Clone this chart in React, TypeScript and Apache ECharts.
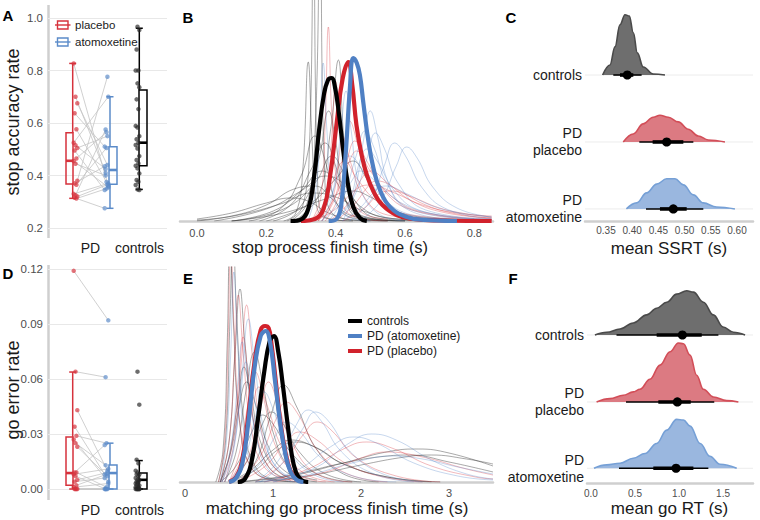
import React, { useEffect, useRef } from "react";
import * as echarts from "echarts";

const FONT = "'Liberation Sans', Arial, Helvetica, sans-serif";

// ---------------- Panel A: stop accuracy rate ----------------
const accPlacebo = [0.827, 0.70, 0.675, 0.637, 0.576, 0.525, 0.515, 0.505, 0.495, 0.465, 0.455, 0.445, 0.38, 0.37, 0.365, 0.33, 0.325, 0.32, 0.315, 0.312];
const accAtomox = [0.36, 0.41, 0.44, 0.51, 0.375, 0.70, 0.425, 0.55, 0.345, 0.565, 0.355, 0.40, 0.776, 0.435, 0.505, 0.37, 0.575, 0.365, 0.275, 0.35];
const accControls = [0.967, 0.954, 0.88, 0.80, 0.80, 0.751, 0.736, 0.69, 0.653, 0.589, 0.583, 0.55, 0.538, 0.525, 0.516, 0.503, 0.474, 0.459, 0.446, 0.437, 0.427, 0.408, 0.383, 0.376, 0.364, 0.347, 0.345];
// [min, q1, median, q3, max]
const accBoxPlacebo = [0.313, 0.368, 0.456, 0.563, 0.827];
const accBoxAtomox = [0.275, 0.367, 0.421, 0.51, 0.70];
const accBoxControls = [0.347, 0.437, 0.525, 0.726, 0.961];

// ---------------- Panel D: go error rate ----------------
const errPlacebo = [0.119, 0.064, 0.043, 0.034, 0.029, 0.027, 0.025, 0.023, 0.009, 0.009, 0.008, 0.007, 0.005, 0.004, 0.002, 0.001, 0, 0, 0, 0];
const errAtomox = [0.092, 0.061, 0.010, 0.008, 0.025, 0.004, 0.013, 0.007, 0.024, 0.001, 0.011, 0, 0.009, 0.006, 0.008, 0.003, 0, 0, 0, 0];
const errControls = [0.064, 0.046, 0.016, 0.014, 0.010, 0.009, 0.008, 0.008, 0.007, 0.006, 0.005, 0.005, 0.004, 0.004, 0.003, 0.003, 0.002, 0.002, 0.001, 0.001, 0, 0, 0, 0, 0, 0, 0];
const errBoxPlacebo = [0, 0.002, 0.0087, 0.0284, 0.0638];
const errBoxAtomox = [0, 0, 0.0087, 0.0131, 0.025];
const errBoxControls = [0, 0, 0.005, 0.0087, 0.0155];

// ---------------- Panel B: stop process finish time densities ----------------
const stopCtrlMean = [[0.27, 0], [0.297, 0.1], [0.321, 1.2], [0.338, 4.5], [0.352, 9.0], [0.366, 12.6], [0.378, 14.1], [0.388, 14.3], [0.398, 13.4], [0.41, 10.6], [0.422, 7.0], [0.435, 3.8], [0.451, 1.4], [0.47, 0.3], [0.49, 0]];
const stopPlaceboMean = [[0.30, 0], [0.34, 0.2], [0.365, 1.2], [0.384, 4.5], [0.403, 9.8], [0.42, 14.2], [0.4365, 15.9], [0.448, 13.6], [0.46, 9.6], [0.475, 6.6], [0.49, 4.6], [0.51, 2.9], [0.535, 1.6], [0.576, 0.6], [0.624, 0.2], [0.7, 0.05], [0.85, 0]];
const stopAtomoxMean = [[0.38, 0], [0.405, 0.3], [0.418, 2.2], [0.43, 7.2], [0.441, 13.2], [0.451, 16.3], [0.461, 15.8], [0.47, 14.6], [0.48, 11.8], [0.494, 8.1], [0.509, 5.3], [0.528, 3.1], [0.557, 1.4], [0.605, 0.4], [0.66, 0.1], [0.75, 0]];

const stopCtrlCurves = [
  [[0.25, 0], [0.285, 0.8], [0.305, 5], [0.321, 15.9], [0.332, 8], [0.345, 1.5], [0.38, 0.2], [0.45, 0]],
  [[0.26, 0], [0.305, 1.5], [0.325, 8], [0.336, 30], [0.348, 4], [0.37, 0.4], [0.45, 0]],
  [[0.27, 0], [0.32, 2], [0.342, 10], [0.355, 30], [0.368, 5], [0.4, 0.5], [0.5, 0]],
  [[0.28, 0], [0.35, 2.5], [0.385, 9], [0.408, 16.1], [0.422, 9], [0.44, 2.5], [0.48, 0.4], [0.6, 0]],
  [[0.15, 0], [0.24, 1.2], [0.3, 4.5], [0.34, 8.5], [0.37, 6], [0.4, 2], [0.45, 0.3], [0.55, 0]],
  [[0.18, 0], [0.27, 1.6], [0.33, 5.2], [0.37, 7.8], [0.4, 5.5], [0.43, 2], [0.48, 0.3], [0.6, 0]],
  [[0.0, 0.1], [0.1, 0.5], [0.2, 1.6], [0.28, 3.2], [0.34, 3.5], [0.39, 2.2], [0.44, 0.6], [0.55, 0]],
  [[0.0, 0.2], [0.1, 0.8], [0.2, 1.8], [0.27, 2.3], [0.32, 2.0], [0.38, 0.8], [0.45, 0.1], [0.55, 0]],
  [[0.05, 0], [0.2, 1.2], [0.3, 3.0], [0.37, 4.5], [0.42, 3.8], [0.47, 1.5], [0.55, 0.3], [0.7, 0]],
  [[0.2, 0], [0.32, 1.6], [0.4, 4.2], [0.45, 6], [0.49, 4.2], [0.54, 1.5], [0.62, 0.3], [0.75, 0]],
  [[0.22, 0], [0.3, 1.5], [0.35, 6], [0.38, 11], [0.4, 8], [0.425, 2.5], [0.47, 0.3], [0.6, 0]],
  [[0.1, 0], [0.25, 0.8], [0.37, 2.2], [0.45, 3], [0.5, 2.4], [0.57, 1.0], [0.68, 0.3], [0.85, 0.1]],
  [[0.1, 0], [0.22, 1], [0.3, 3], [0.36, 5], [0.4, 4], [0.44, 1.5], [0.5, 0.3], [0.6, 0]],
  [[0.0, 0], [0.12, 0.6], [0.25, 1.8], [0.33, 2.8], [0.4, 2.4], [0.48, 1], [0.58, 0.2], [0.75, 0]],
  [[0.1, 0], [0.25, 1.2], [0.34, 3.8], [0.39, 6.5], [0.42, 5], [0.46, 1.8], [0.52, 0.3], [0.65, 0]],
];
const stopPlaceboCurves = [
  [[0.33, 0], [0.358, 2.5], [0.37, 10], [0.379, 19.4], [0.39, 10], [0.41, 3], [0.45, 0.5], [0.55, 0]],
  [[0.36, 0], [0.4, 2.5], [0.425, 7.5], [0.44, 10], [0.465, 7.5], [0.5, 3.5], [0.56, 1], [0.7, 0.2]],
  [[0.35, 0], [0.4, 2.5], [0.44, 6], [0.46, 7], [0.5, 5], [0.56, 2.5], [0.65, 0.9], [0.85, 0.2]],
  [[0.33, 0], [0.37, 2], [0.41, 5.5], [0.425, 6], [0.46, 4.3], [0.52, 2], [0.62, 0.6], [0.85, 0.1]],
  [[0.38, 0], [0.43, 1.5], [0.48, 4.5], [0.5, 5], [0.55, 3.8], [0.62, 2], [0.72, 0.8], [0.85, 0.3]],
  [[0.34, 0], [0.4, 1.2], [0.46, 3.2], [0.5, 3.6], [0.57, 2.8], [0.65, 1.6], [0.75, 0.8], [0.85, 0.5]],
  [[0.35, 0], [0.375, 3], [0.39, 9], [0.4, 14], [0.412, 10], [0.435, 4], [0.47, 1], [0.55, 0.2]],
  [[0.4, 0], [0.45, 1.5], [0.5, 3.7], [0.52, 4], [0.58, 3.1], [0.66, 1.6], [0.75, 0.7], [0.85, 0.3]],
  [[0.37, 0], [0.41, 2.5], [0.44, 7], [0.455, 8], [0.49, 6], [0.54, 3], [0.62, 1.1], [0.8, 0.2]],
  [[0.42, 0], [0.48, 1.2], [0.53, 2.8], [0.56, 3], [0.62, 2.4], [0.7, 1.3], [0.78, 0.7], [0.85, 0.4]],
  [[0.36, 0], [0.39, 2], [0.41, 6.5], [0.42, 8.5], [0.44, 6.2], [0.48, 2.5], [0.55, 0.6], [0.7, 0.1]],
];
const stopAtomoxCurves = [
  [[0.32, 0], [0.343, 3], [0.355, 10], [0.364, 15.8], [0.375, 9], [0.39, 3], [0.43, 0.5], [0.5, 0]],
  [[0.44, 0], [0.5, 2], [0.54, 5.5], [0.57, 7.8], [0.6, 6.6], [0.65, 3.3], [0.72, 1.2], [0.85, 0.2]],
  [[0.47, 0], [0.53, 2], [0.575, 5.5], [0.605, 7.4], [0.635, 6.3], [0.68, 3.4], [0.75, 1.3], [0.85, 0.4]],
  [[0.4, 0], [0.45, 2.2], [0.49, 6.2], [0.515, 8.8], [0.54, 7.3], [0.58, 3.8], [0.66, 1.1], [0.85, 0.2]],
  [[0.38, 0], [0.42, 2.2], [0.46, 6.6], [0.485, 9], [0.51, 7.4], [0.55, 3.6], [0.62, 1.1], [0.8, 0.2]],
  [[0.36, 0], [0.39, 2.5], [0.415, 9], [0.43, 13], [0.445, 9], [0.47, 3.5], [0.52, 0.8], [0.6, 0]],
  [[0.36, 0], [0.41, 1.8], [0.45, 4.2], [0.47, 5], [0.52, 3.8], [0.59, 1.8], [0.7, 0.6], [0.85, 0.15]],
  [[0.42, 0], [0.47, 1.3], [0.52, 3.2], [0.545, 3.5], [0.6, 2.8], [0.68, 1.5], [0.76, 0.8], [0.85, 0.4]],
  [[0.34, 0], [0.38, 2], [0.42, 5.6], [0.44, 6.5], [0.48, 5], [0.54, 2.2], [0.62, 0.6], [0.75, 0.1]],
  [[0.42, 0], [0.455, 3], [0.48, 8], [0.5, 11], [0.52, 8.6], [0.55, 4], [0.6, 1.3], [0.72, 0.2]],
  [[0.4, 0], [0.44, 2], [0.47, 6], [0.49, 7.2], [0.52, 6], [0.57, 3], [0.64, 1.1], [0.8, 0.2]],
];

// ---------------- Panel E: matching go process finish time densities ----------------
const goCtrlMean = [[0.6, 0], [0.68, 0.3], [0.76, 2.2], [0.83, 6.4], [0.9, 11.0], [0.96, 14.0], [1.01, 14.6], [1.06, 13.0], [1.11, 9.8], [1.16, 6.2], [1.21, 2.9], [1.26, 1.0], [1.32, 0.2], [1.4, 0]];
const goAtomoxMean = [[0.5, 0], [0.58, 0.4], [0.65, 1.8], [0.72, 6], [0.79, 11.4], [0.86, 14.6], [0.917, 15.1], [0.966, 14], [1.02, 10.3], [1.08, 6], [1.14, 2.8], [1.2, 1.0], [1.27, 0.2], [1.345, 0]];
const goPlaceboMean = [[0.5, 0], [0.58, 0.5], [0.65, 2.2], [0.72, 6.7], [0.79, 12.0], [0.86, 15.2], [0.91, 15.6], [0.95, 15.4], [0.98, 14.0], [1.03, 10.2], [1.08, 6.3], [1.14, 3.0], [1.2, 1.1], [1.27, 0.25], [1.345, 0]];

const goCtrlCurves = [
  [[0.35, 0], [0.43, 3], [0.48, 14], [0.51, 25], [0.55, 16], [0.62, 6], [0.75, 1.5], [1.0, 0.2], [1.3, 0]],
  [[0.38, 0], [0.46, 4], [0.51, 16], [0.545, 25], [0.59, 16], [0.67, 6], [0.8, 1.5], [1.05, 0.2], [1.3, 0]],
  [[0.4, 0], [0.5, 4], [0.57, 13], [0.625, 19.3], [0.68, 14], [0.78, 6], [0.95, 1.5], [1.2, 0.2]],
  [[0.45, 0], [0.58, 3], [0.7, 9.5], [0.79, 13], [0.88, 10], [1.0, 5], [1.2, 1.3], [1.5, 0.2]],
  [[0.6, 0], [0.8, 2], [0.98, 6.8], [1.12, 9.7], [1.27, 7.5], [1.5, 3.2], [1.8, 0.8], [2.2, 0]],
  [[0.4, 0], [0.58, 1.6], [0.76, 5], [0.88, 6.7], [1.0, 5.8], [1.2, 3], [1.5, 0.8], [1.9, 0]],
  [[0.6, 0], [1.2, 0.6], [1.8, 1.9], [2.35, 3.1], [2.65, 3.3], [3.0, 2.9], [3.5, 1.6]],
  [[0.8, 0], [1.4, 0.6], [2.0, 1.7], [2.5, 2.5], [2.8, 2.7], [3.2, 2.3], [3.5, 1.8]],
  [[0.6, 0], [1.2, 0.7], [1.8, 1.9], [2.3, 2.6], [2.55, 2.7], [3.0, 2.0], [3.5, 1.0]],
  [[0.5, 0], [0.8, 1.2], [1.05, 3.2], [1.25, 4], [1.5, 3.4], [1.8, 1.8], [2.3, 0.5], [2.8, 0]],
  [[0.4, 0], [0.52, 3], [0.62, 7.8], [0.7, 10], [0.8, 7.8], [0.95, 3.5], [1.15, 1], [1.5, 0]],
  [[0.5, 0], [0.7, 2], [0.87, 5.6], [0.98, 7], [1.1, 6], [1.3, 3], [1.6, 0.8], [2.0, 0]],
  [[0.4, 0], [0.5, 2.5], [0.6, 8], [0.67, 11.5], [0.75, 8.5], [0.88, 3.5], [1.1, 0.8], [1.4, 0]],
  [[0.5, 0], [0.75, 1.2], [1.0, 3.2], [1.2, 4.2], [1.45, 3.6], [1.8, 1.8], [2.3, 0.5], [2.9, 0]],
];
const goPlaceboCurves = [
  [[0.38, 0], [0.45, 4], [0.49, 14], [0.52, 24], [0.56, 15], [0.63, 5.5], [0.76, 1.3], [1.0, 0.1]],
  [[0.4, 0], [0.5, 4], [0.56, 12], [0.606, 18.7], [0.66, 13], [0.75, 5.5], [0.9, 1.5], [1.15, 0.2]],
  [[0.45, 0], [0.56, 4], [0.64, 12], [0.70, 17.7], [0.76, 13], [0.86, 5.5], [1.02, 1.4], [1.3, 0.1]],
  [[0.55, 0], [0.72, 2.5], [0.85, 7], [0.95, 10], [1.05, 8], [1.22, 3.8], [1.5, 0.8], [1.9, 0]],
  [[0.8, 0], [1.1, 1.8], [1.35, 4.8], [1.5, 6], [1.66, 5.2], [1.95, 2.4], [2.4, 0.6], [2.9, 0]],
  [[0.9, 0], [1.4, 1.3], [1.8, 3.3], [2.06, 4], [2.35, 3.4], [2.8, 1.6], [3.3, 0.5], [3.5, 0.3]],
  [[1.0, 0], [1.6, 1], [2.0, 2.4], [2.29, 3], [2.7, 2.5], [3.2, 1.3], [3.5, 0.7]],
  [[0.6, 0], [0.85, 2.5], [1.02, 6], [1.15, 8], [1.29, 6.7], [1.52, 3], [1.85, 0.8], [2.3, 0]],
  [[0.5, 0], [0.62, 3], [0.72, 8], [0.8, 11], [0.89, 8.5], [1.02, 3.8], [1.25, 0.9], [1.6, 0]],
  [[0.6, 0], [0.9, 1.5], [1.15, 4], [1.3, 5], [1.5, 4.2], [1.8, 2], [2.2, 0.6], [2.7, 0]],
  [[0.42, 0], [0.53, 3.5], [0.61, 10], [0.66, 14.5], [0.72, 10.5], [0.82, 4.5], [1.0, 1], [1.3, 0]],
  [[0.5, 0], [0.65, 2.5], [0.76, 7], [0.84, 9.5], [0.94, 7.5], [1.1, 3.5], [1.35, 0.9], [1.7, 0]],
];
const goAtomoxCurves = [
  [[0.45, 0], [0.56, 3.5], [0.65, 11], [0.72, 16.3], [0.79, 12], [0.9, 5], [1.05, 1.3], [1.35, 0]],
  [[0.8, 0], [1.05, 2], [1.27, 5.8], [1.4, 7.2], [1.54, 6.2], [1.78, 3], [2.15, 0.8], [2.6, 0]],
  [[0.85, 0], [1.1, 1.8], [1.35, 5.5], [1.48, 7], [1.62, 6.2], [1.88, 3], [2.25, 0.8], [2.7, 0]],
  [[0.9, 0], [1.3, 1.3], [1.65, 3.5], [1.91, 4.5], [2.15, 4.0], [2.6, 1.9], [3.1, 0.6], [3.5, 0.2]],
  [[1.0, 0], [1.5, 1.5], [1.85, 3.8], [2.12, 4.8], [2.4, 4.2], [2.8, 2.2], [3.2, 0.8], [3.5, 0.3]],
  [[0.42, 0], [0.52, 3.5], [0.6, 10], [0.65, 14], [0.71, 10.5], [0.81, 4.5], [0.97, 1], [1.25, 0]],
  [[0.5, 0], [0.68, 2.5], [0.8, 6.5], [0.9, 9], [1.0, 7.3], [1.17, 3.3], [1.45, 0.8], [1.8, 0]],
  [[0.4, 0], [0.47, 4], [0.52, 13], [0.555, 21], [0.6, 13.5], [0.67, 5], [0.8, 1.2], [1.05, 0]],
  [[0.6, 0], [0.85, 1.8], [1.02, 4.5], [1.15, 6], [1.3, 5.1], [1.56, 2.3], [1.95, 0.5], [2.4, 0]],
  [[0.8, 0], [1.4, 0.7], [1.9, 1.9], [2.35, 2.6], [2.7, 2.3], [3.1, 1.5], [3.5, 0.8]],
  [[0.42, 0], [0.54, 3], [0.63, 8.5], [0.69, 12], [0.77, 9], [0.9, 4], [1.1, 1], [1.4, 0]],
];

// ---------------- Panel C: mean SSRT posterior ----------------
const ssrtCtrlDens = [[0.3436, 0], [0.3576, 0.15], [0.3672, 0.42], [0.3767, 0.75], [0.3863, 0.9], [0.3945, 0.88], [0.4022, 0.63], [0.4098, 0.33], [0.4212, 0.12], [0.4403, 0.015], [0.4626, 0]];
const ssrtPlaceboDens = [[0.383, 0], [0.402, 0.12], [0.421, 0.27], [0.44, 0.37], [0.453, 0.40], [0.469, 0.37], [0.488, 0.30], [0.507, 0.19], [0.526, 0.09], [0.545, 0.03], [0.577, 0]];
const ssrtAtomoxDens = [[0.389, 0], [0.4085, 0.09], [0.4276, 0.24], [0.4467, 0.37], [0.4658, 0.45], [0.4817, 0.45], [0.4976, 0.36], [0.5167, 0.21], [0.5357, 0.09], [0.561, 0.03], [0.596, 0]];
// [lo95, lo66, point, hi66, hi95]
const ssrtCtrlInt = [0.364, 0.3767, 0.3907, 0.4022, 0.418];
const ssrtPlaceboInt = [0.4136, 0.439, 0.4658, 0.4976, 0.5167];
const ssrtAtomoxInt = [0.4263, 0.453, 0.4785, 0.504, 0.5357];

// ---------------- Panel F: mean go RT posterior ----------------
const rtCtrlDens = [[0.045, 0], [0.178, 0.04], [0.33, 0.09], [0.48, 0.18], [0.633, 0.3], [0.746, 0.4], [0.86, 0.49], [0.973, 0.61], [1.087, 0.66], [1.163, 0.64], [1.277, 0.49], [1.39, 0.3], [1.5, 0.12], [1.617, 0.04], [1.75, 0]];
const rtPlaceboDens = [[0.064, 0], [0.216, 0.05], [0.367, 0.1], [0.48, 0.15], [0.557, 0.19], [0.67, 0.34], [0.784, 0.55], [0.898, 0.75], [0.992, 0.88], [1.05, 0.87], [1.125, 0.7], [1.2, 0.4], [1.276, 0.19], [1.39, 0.075], [1.54, 0.02], [1.674, 0]];
const rtAtomoxDens = [[0.034, 0], [0.178, 0.05], [0.33, 0.075], [0.48, 0.15], [0.614, 0.22], [0.746, 0.37], [0.86, 0.57], [0.973, 0.73], [1.05, 0.72], [1.125, 0.63], [1.24, 0.37], [1.35, 0.18], [1.466, 0.06], [1.655, 0]];
const rtCtrlInt = [0.29, 0.746, 1.038, 1.258, 1.447];
const rtPlaceboInt = [0.398, 0.765, 0.981, 1.133, 1.4];
const rtAtomoxInt = [0.318, 0.708, 0.966, 1.163, 1.333];

const rowLabels = ["controls", "PD\nplacebo", "PD\natomoxetine"];
const stopTicks = [0, 0.2, 0.4, 0.6, 0.8];
const goTicks = [0, 1, 2, 3];
const ssrtTicks = [0.35, 0.4, 0.45, 0.5, 0.55, 0.6];
const rtTicks = [0, 0.5, 1, 1.5];
const groupLabels = ["PD", "controls"];

// ---------------- colours & layout ----------------
const RED = "#d1222c";
const BLUE = "#4f80c4";
const BLACK = "#000000";
const BOX_RED = "#d6323c";
const BOX_BLUE = "#5b8bc9";
const GREY_TXT = "#4d4d4d";
const AXIS_GREY = "#cfcfcf";

// x layout in panels A/D (axis units = px from axis)
const LAY = {
  placebo: { box: [18, 25], wx: 24.7, pts: 27.5 },
  atomox: { box: [61, 69], wx: 62, pts: 58.5 },
  controls: { box: [91, 99], wx: 91.3, pts: 89.5 },
};
const GROUP_LABEL_X = [42.5, 91.5];
const jit = (i: number) => (((i * 7) % 5) - 2) * 0.9;

// row baselines in panels C / F (axis units)
const ROW_C = [2.18, 1.18, 0.18];
const ROW_F = [2.21, 1.21, 0.22];

function boxSeries(stats: number[], lay: any, color: string, ai: number) {
  return {
    type: "custom",
    xAxisIndex: ai,
    yAxisIndex: ai,
    silent: true,
    z: 4,
    data: [stats],
    renderItem: (params: any, api: any) => {
      const mn = api.value(0), q1 = api.value(1), md = api.value(2), q3 = api.value(3), mx = api.value(4);
      const c = (x: number, y: number) => api.coord([x, y]);
      const [bx0, yq3] = c(lay.box[0], q3);
      const [bx1, yq1] = c(lay.box[1], q1);
      const ymd = c(0, md)[1];
      const ymn = c(0, mn)[1];
      const ymx = c(0, mx)[1];
      const wx = c(lay.wx, 0)[0];
      const st = { stroke: color, lineWidth: 1.5, fill: "none" };
      const ch: any[] = [
        { type: "rect", shape: { x: bx0, y: yq3, width: bx1 - bx0, height: yq1 - yq3 }, style: st },
        { type: "line", shape: { x1: bx0, y1: ymd, x2: bx1, y2: ymd }, style: { stroke: color, lineWidth: 2.6 } },
        { type: "line", shape: { x1: wx, y1: yq3, x2: wx, y2: ymx }, style: st },
        { type: "line", shape: { x1: wx, y1: yq1, x2: wx, y2: ymn }, style: st },
        { type: "line", shape: { x1: wx - 3.5, y1: ymx, x2: wx + 3.5, y2: ymx }, style: st },
        { type: "line", shape: { x1: wx - 3.5, y1: ymn, x2: wx + 3.5, y2: ymn }, style: st },
      ];
      return { type: "group", children: ch };
    },
  };
}

function pairSeries(a: number[], b: number[], ai: number) {
  return {
    type: "custom",
    xAxisIndex: ai,
    yAxisIndex: ai,
    silent: true,
    z: 2,
    data: a.map((v, i) => [LAY.placebo.pts + jit(i), v, LAY.atomox.pts + jit(i + 2), b[i]]),
    renderItem: (params: any, api: any) => {
      const p1 = api.coord([api.value(0), api.value(1)]);
      const p2 = api.coord([api.value(2), api.value(3)]);
      return { type: "line", shape: { x1: p1[0], y1: p1[1], x2: p2[0], y2: p2[1] }, style: { stroke: "#c4c4c4", lineWidth: 0.8 } };
    },
  };
}

function pointsSeries(vals: number[], x: number, color: string, ai: number, shift = 0) {
  return {
    type: "scatter",
    xAxisIndex: ai,
    yAxisIndex: ai,
    silent: true,
    z: 5,
    symbolSize: 4.5,
    itemStyle: { color },
    data: vals.map((v, i) => [x + jit(i + shift), v]),
  };
}

function thinSeries(curves: number[][][], color: string, ai: number) {
  return curves.map((c) => ({
    type: "line",
    xAxisIndex: ai,
    yAxisIndex: ai,
    data: c,
    smooth: 0.45,
    showSymbol: false,
    symbol: "none",
    silent: true,
    z: 2,
    lineStyle: { color, width: 1 },
  }));
}

function thickSeries(name: string, data: number[][], color: string, ai: number) {
  return {
    name,
    type: "line",
    xAxisIndex: ai,
    yAxisIndex: ai,
    data,
    smooth: 0.45,
    showSymbol: false,
    symbol: "none",
    silent: true,
    z: 3,
    itemStyle: { color },
    lineStyle: { color, width: 4.2, join: "round" },
  };
}

function densSeries(data: number[][], base: number, fill: string, stroke: string, ai: number) {
  return {
    type: "line",
    xAxisIndex: ai,
    yAxisIndex: ai,
    data: data.map(([x, h]) => [x, base + h]),
    smooth: 0.4,
    smoothMonotone: "x",
    showSymbol: false,
    symbol: "none",
    silent: true,
    z: 3,
    lineStyle: { color: stroke, width: 1.6 },
    areaStyle: { color: fill, opacity: 1, origin: base },
  };
}

function baseSeries(base: number, x0: number, x1: number, ai: number) {
  return {
    type: "line",
    xAxisIndex: ai,
    yAxisIndex: ai,
    data: [[x0, base], [x1, base]],
    showSymbol: false,
    symbol: "none",
    silent: true,
    z: 1,
    lineStyle: { color: "#ececec", width: 1 },
  };
}

function intervalSeries(iv: number[], base: number, ai: number) {
  return {
    type: "custom",
    xAxisIndex: ai,
    yAxisIndex: ai,
    silent: true,
    z: 6,
    data: [[base, ...iv]],
    renderItem: (params: any, api: any) => {
      const b = api.value(0);
      const a = api.coord([api.value(1), b]);
      const l = api.coord([api.value(2), b]);
      const p = api.coord([api.value(3), b]);
      const h = api.coord([api.value(4), b]);
      const z = api.coord([api.value(5), b]);
      return {
        type: "group",
        children: [
          { type: "line", shape: { x1: a[0], y1: a[1], x2: z[0], y2: z[1] }, style: { stroke: "#000", lineWidth: 1.6 } },
          { type: "line", shape: { x1: l[0], y1: l[1], x2: h[0], y2: h[1] }, style: { stroke: "#000", lineWidth: 3.6 } },
          { type: "circle", shape: { cx: p[0], cy: p[1], r: 4.6 }, style: { fill: "#000" } },
        ],
      };
    },
  };
}

export default function App() {
  const ref = useRef<HTMLDivElement>(null);
  useEffect(() => {
    if (!ref.current) return;
    const chart = echarts.init(ref.current, undefined, { renderer: "svg" });
    const hidden = { show: false };
    const valAxisX = (gi: number, min: number, max: number, ticks: number[], fmt: (v: number) => string, size: number, margin: number) => ({
      type: "value",
      gridIndex: gi,
      min,
      max,
      axisLine: { show: true, onZero: false, lineStyle: { color: AXIS_GREY, width: 2.5 } },
      axisTick: { show: false },
      splitLine: { show: false },
      axisLabel: { customValues: ticks, formatter: fmt, fontSize: size, color: GREY_TXT, margin, fontFamily: FONT },
    });
    const rowAxisLabel = (rows: number[]) => ({
      customValues: rows,
      formatter: (v: number) => {
        const i = rows.findIndex((r) => Math.abs(r - v) < 1e-6);
        return i >= 0 ? rowLabels[i] : "";
      },
      fontSize: 14,
      lineHeight: 17,
      color: "#1a1a1a",
      margin: 3,
      align: "right",
    });

    const option: any = {
      animation: false,
      backgroundColor: "#ffffff",
      textStyle: { fontFamily: FONT },
      grid: [
        { left: 48, top: 18, width: 119, height: 210 },
        { left: 48, top: 269, width: 119, height: 220 },
        { left: 180, top: 0, width: 313, height: 221 },
        { left: 180, top: 267, width: 313, height: 215 },
        { left: 585, top: 0, width: 168, height: 221 },
        { left: 587, top: 262, width: 166, height: 221 },
      ],
      xAxis: [
        {
          type: "value", gridIndex: 0, min: 0, max: 119,
          axisLine: hidden, axisTick: hidden, splitLine: hidden,
          axisLabel: { customValues: GROUP_LABEL_X, formatter: (v: number) => (v < 60 ? groupLabels[0] : groupLabels[1]), fontSize: 14, color: "#1a1a1a", margin: 13 },
        },
        {
          type: "value", gridIndex: 1, min: 0, max: 119,
          axisLine: hidden, axisTick: hidden, splitLine: hidden,
          axisLabel: { customValues: GROUP_LABEL_X, formatter: (v: number) => (v < 60 ? groupLabels[0] : groupLabels[1]), fontSize: 14, color: "#1a1a1a", margin: 14 },
        },
        valAxisX(2, -0.049, 0.854, stopTicks, (v) => v.toFixed(1), 11, 6),
        valAxisX(3, -0.057, 3.5, goTicks, (v) => String(Math.round(v)), 11, 5),
        valAxisX(4, 0.31, 0.6305, ssrtTicks, (v) => v.toFixed(2), 10, 4),
        valAxisX(5, -0.045, 1.84, rtTicks, (v) => v.toFixed(1), 10, 5),
      ],
      yAxis: [
        {
          type: "value", gridIndex: 0, min: 0.2, max: 1.0, interval: 0.2,
          axisLine: hidden, axisTick: hidden,
          splitLine: { show: true, lineStyle: { color: "#e8e8e8", width: 1 } },
          axisLabel: { formatter: (v: number) => v.toFixed(1), fontSize: 11.5, color: GREY_TXT, margin: 5 },
        },
        {
          type: "value", gridIndex: 1, min: 0, max: 0.12, interval: 0.03,
          axisLine: hidden, axisTick: hidden,
          splitLine: { show: true, lineStyle: { color: "#e8e8e8", width: 1 } },
          axisLabel: { formatter: (v: number) => v.toFixed(2), fontSize: 11.5, color: GREY_TXT, margin: 5 },
        },
        { type: "value", gridIndex: 2, min: 0, max: 22.1, show: false },
        { type: "value", gridIndex: 3, min: 0, max: 21.5, show: false },
        {
          type: "value", gridIndex: 4, min: 0, max: 3.3,
          axisLine: hidden, axisTick: hidden, splitLine: hidden,
          axisLabel: rowAxisLabel(ROW_C),
        },
        {
          type: "value", gridIndex: 5, min: 0, max: 3.3,
          axisLine: hidden, axisTick: hidden, splitLine: hidden,
          axisLabel: rowAxisLabel(ROW_F),
        },
      ],
      legend: {
        left: 343,
        top: 310,
        orient: "vertical",
        icon: "rect",
        itemWidth: 14,
        itemHeight: 4,
        itemGap: 3,
        selectedMode: false,
        textStyle: { fontSize: 12, color: "#1a1a1a", fontFamily: FONT },
        data: ["controls", "PD (atomoxetine)", "PD (placebo)"],
      },
      series: [
        // A
        pairSeries(accPlacebo, accAtomox, 0),
        boxSeries(accBoxPlacebo, LAY.placebo, BOX_RED, 0),
        boxSeries(accBoxAtomox, LAY.atomox, BOX_BLUE, 0),
        boxSeries(accBoxControls, LAY.controls, "#000", 0),
        pointsSeries(accPlacebo, LAY.placebo.pts, "rgba(214,50,60,0.85)", 0),
        pointsSeries(accAtomox, LAY.atomox.pts, "rgba(91,139,201,0.85)", 0, 2),
        pointsSeries(accControls, LAY.controls.pts, "rgba(40,40,40,0.85)", 0, 1),
        // D
        pairSeries(errPlacebo, errAtomox, 1),
        boxSeries(errBoxPlacebo, LAY.placebo, BOX_RED, 1),
        boxSeries(errBoxAtomox, LAY.atomox, BOX_BLUE, 1),
        boxSeries(errBoxControls, LAY.controls, "#000", 1),
        pointsSeries(errPlacebo, LAY.placebo.pts, "rgba(214,50,60,0.85)", 1),
        pointsSeries(errAtomox, LAY.atomox.pts, "rgba(91,139,201,0.85)", 1, 2),
        pointsSeries(errControls, LAY.controls.pts, "rgba(40,40,40,0.85)", 1, 1),
        // B
        ...thinSeries(stopCtrlCurves, "rgba(50,50,50,0.42)", 2),
        ...thinSeries(stopPlaceboCurves, "rgba(214,40,50,0.32)", 2),
        ...thinSeries(stopAtomoxCurves, "rgba(80,130,200,0.32)", 2),
        thickSeries("PD (placebo)", stopPlaceboMean, RED, 2),
        thickSeries("controls", stopCtrlMean, BLACK, 2),
        thickSeries("PD (atomoxetine)", stopAtomoxMean, BLUE, 2),
        // E
        ...thinSeries(goCtrlCurves, "rgba(50,50,50,0.42)", 3),
        ...thinSeries(goPlaceboCurves, "rgba(214,40,50,0.32)", 3),
        ...thinSeries(goAtomoxCurves, "rgba(80,130,200,0.32)", 3),
        thickSeries("PD (placebo)", goPlaceboMean, RED, 3),
        thickSeries("controls", goCtrlMean, BLACK, 3),
        thickSeries("PD (atomoxetine)", goAtomoxMean, BLUE, 3),
        // C
        ...ROW_C.map((b) => baseSeries(b, 0.31, 0.6305, 4)),
        densSeries(ssrtCtrlDens, ROW_C[0], "#6e6e6e", "#4a4a4a", 4),
        densSeries(ssrtPlaceboDens, ROW_C[1], "#dc7a82", "#d24e58", 4),
        densSeries(ssrtAtomoxDens, ROW_C[2], "#9ab7df", "#76a0d6", 4),
        intervalSeries(ssrtCtrlInt, ROW_C[0], 4),
        intervalSeries(ssrtPlaceboInt, ROW_C[1], 4),
        intervalSeries(ssrtAtomoxInt, ROW_C[2], 4),
        // F
        ...ROW_F.map((b) => baseSeries(b, -0.045, 1.84, 5)),
        densSeries(rtCtrlDens, ROW_F[0], "#6e6e6e", "#4a4a4a", 5),
        densSeries(rtPlaceboDens, ROW_F[1], "#dc7a82", "#d24e58", 5),
        densSeries(rtAtomoxDens, ROW_F[2], "#9ab7df", "#76a0d6", 5),
        intervalSeries(rtCtrlInt, ROW_F[0], 5),
        intervalSeries(rtPlaceboInt, ROW_F[1], 5),
        intervalSeries(rtAtomoxInt, ROW_F[2], 5),
      ],
      graphic: [
        // thick y axis lines in A and D
        { type: "line", shape: { x1: 48.5, y1: 5, x2: 48.5, y2: 238 }, style: { stroke: AXIS_GREY, lineWidth: 2.5 }, silent: true },
        { type: "line", shape: { x1: 48.5, y1: 265, x2: 48.5, y2: 500 }, style: { stroke: AXIS_GREY, lineWidth: 2.5 }, silent: true },
        // panel letters
        ...[["A", 8, 15], ["B", 188, 17], ["C", 511, 17], ["D", 8, 273], ["E", 188, 278], ["F", 513, 278]].map(([t, x, y]) => ({
          type: "text", x, y, silent: true,
          style: { text: t, font: `bold 15px ${FONT}`, fill: "#000", textAlign: "center", textVerticalAlign: "middle" },
        })),
        // y titles
        { type: "text", x: 12.5, y: 122, rotation: Math.PI / 2, silent: true, style: { text: "stop accuracy rate", font: `18px ${FONT}`, fill: "#1a1a1a", textAlign: "center", textVerticalAlign: "middle" } },
        { type: "text", x: 13, y: 390, rotation: Math.PI / 2, silent: true, style: { text: "go error rate", font: `18px ${FONT}`, fill: "#1a1a1a", textAlign: "center", textVerticalAlign: "middle" } },
        // x titles
        { type: "text", x: 330, y: 247, silent: true, style: { text: "stop process finish time (s)", font: `16.5px ${FONT}`, fill: "#1a1a1a", textAlign: "center", textVerticalAlign: "middle" } },
        { type: "text", x: 337, y: 508, silent: true, style: { text: "matching go process finish time (s)", font: `17px ${FONT}`, fill: "#1a1a1a", textAlign: "center", textVerticalAlign: "middle" } },
        { type: "text", x: 669, y: 248, silent: true, style: { text: "mean SSRT (s)", font: `17px ${FONT}`, fill: "#1a1a1a", textAlign: "center", textVerticalAlign: "middle" } },
        { type: "text", x: 669.5, y: 508, silent: true, style: { text: "mean go RT (s)", font: `17px ${FONT}`, fill: "#1a1a1a", textAlign: "center", textVerticalAlign: "middle" } },
        // legend of panel A
        { type: "rect", shape: { x: 57.5, y: 21, width: 10.5, height: 8 }, style: { fill: "none", stroke: BOX_RED, lineWidth: 1.4 }, silent: true },
        { type: "line", shape: { x1: 55, y1: 25, x2: 70.5, y2: 25 }, style: { stroke: BOX_RED, lineWidth: 1.4 }, silent: true },
        { type: "rect", shape: { x: 57.5, y: 38, width: 10.5, height: 8 }, style: { fill: "none", stroke: BOX_BLUE, lineWidth: 1.4 }, silent: true },
        { type: "line", shape: { x1: 55, y1: 42, x2: 70.5, y2: 42 }, style: { stroke: BOX_BLUE, lineWidth: 1.4 }, silent: true },
        { type: "text", x: 75, y: 25, silent: true, style: { text: "placebo", font: `11.5px ${FONT}`, fill: "#1a1a1a", textVerticalAlign: "middle" } },
        { type: "text", x: 75, y: 42, silent: true, style: { text: "atomoxetine", font: `11.5px ${FONT}`, fill: "#1a1a1a", textVerticalAlign: "middle" } },
      ],
    };
    chart.setOption(option);
    return () => chart.dispose();
  }, []);
  return <div ref={ref} style={{ position: "fixed", left: 0, top: 0, width: 760, height: 520, background: "#fff" }} />;
}
